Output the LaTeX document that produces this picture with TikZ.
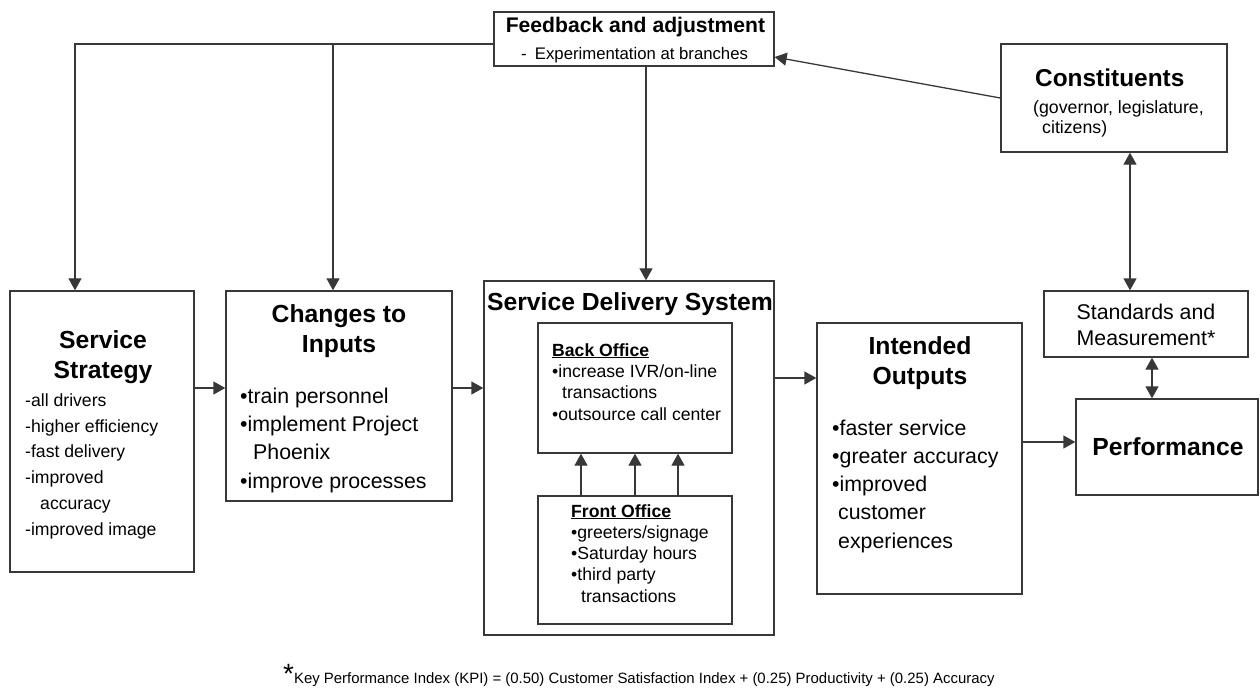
\documentclass[tikz,border=0pt]{standalone}
\usepackage{fontspec}
\setmainfont{Liberation Sans}
\usetikzlibrary{arrows.meta}
\begin{document}
\begin{tikzpicture}[x=1bp,y=-1bp,
  box/.style={draw=black!78,line width=1.3bp,inner sep=0pt,rectangle},
  arr/.style={draw=black!78,line width=1.3bp,-{Triangle[length=12bp,width=13bp]}},
  arrs/.style={draw=black!78,line width=1.3bp,{Triangle[length=12bp,width=13bp]}-{Triangle[length=12bp,width=13bp]}},
  head/.style={inner sep=0pt,align=center,font=\fontsize{24.8}{30}\selectfont\bfseries},
  txt/.style={inner sep=0pt,align=left,anchor=base west},
  small/.style={txt,font=\fontsize{17.7}{21.4}\selectfont},
  big/.style={txt,font=\fontsize{21.4}{28.3}\selectfont}]
\useasboundingbox (0,0) rectangle (1260,689);
\node[box,minimum width=280bp,minimum height=54bp] (fb) at (634,39) {};
\node[box,minimum width=226bp,minimum height=108bp] (con) at (1114,98) {};
\node[box,minimum width=184bp,minimum height=281bp] (ss) at (102,431.5) {};
\node[box,minimum width=226bp,minimum height=210bp] (ci) at (339,396) {};
\node[box,minimum width=290bp,minimum height=354bp] (sds) at (629,458) {};
\node[box,minimum width=194bp,minimum height=130bp] (bo) at (635,388) {};
\node[box,minimum width=194bp,minimum height=128bp] (fo) at (635,560) {};
\node[box,minimum width=205bp,minimum height=271bp] (io) at (919.5,458.5) {};
\node[box,minimum width=204bp,minimum height=66bp] (std) at (1146,324) {};
\node[box,minimum width=182bp,minimum height=96bp] (perf) at (1167,447) {};
% multi-line texts sit on the baseline of their last line
\node[inner sep=0pt,anchor=base,font=\fontsize{21.2}{24}\selectfont\bfseries] (fbt) at (635.5,33) {Feedback and adjustment};
\node[inner sep=0pt,anchor=base,font=\fontsize{16.8}{20}\selectfont] (fbs) at (634.5,60) {-\enspace Experimentation at branches};
\node[inner sep=0pt,anchor=base west,font=\fontsize{24.5}{30}\selectfont\bfseries] (cont) at (1035,87) {Constituents};
\node[txt,font=\fontsize{17.8}{21}\selectfont] (conb) at (1033,134) {(governor, legislature,\\\hspace*{9bp}citizens)};
\node[head,anchor=base] (sst) at (103,378) {Service\\Strategy};
\node[txt,font=\fontsize{17.7}{25.8}\selectfont] (ssb) at (25,535) {-all drivers\\-higher efficiency\\-fast delivery\\-improved\\\hspace*{15bp}accuracy\\-improved image};
\node[head,anchor=base] (cit) at (339,352) {Changes to\\Inputs};
\node[big] (cib) at (240,488) {•train personnel\\•implement Project\\\hspace*{13bp}Phoenix\\•improve processes};
\node[head,anchor=base] (sdst) at (630,310) {Service Delivery System};
\node[small,font=\fontsize{17.7}{21.4}\selectfont\bfseries] (bot) at (552,356) {\underline{Back Office}};
\node[small] (bob) at (552,420) {•increase IVR/on-line\\\hspace*{10bp}transactions\\•outsource call center};
\node[small,font=\fontsize{17.7}{21.4}\selectfont\bfseries] (fot) at (571,517) {\underline{Front Office}};
\node[small] (fob) at (571,602) {•greeters/signage\\•Saturday hours\\•third party\\\hspace*{10bp}transactions};
\node[head,anchor=base] (iot) at (920,384) {Intended\\Outputs};
\node[big] (iob) at (832,548) {•faster service\\•greater accuracy\\•improved\\\hspace*{6bp}customer\\\hspace*{6bp}experiences};
\node[inner sep=0pt,align=center,anchor=base,font=\fontsize{21.4}{26}\selectfont] (stdt) at (1146,345) {Standards and\\Measurement*};
\node[head,anchor=base] (perft) at (1168,455) {Performance};
\node[inner sep=0pt,anchor=base west,font=\fontsize{15}{18}\selectfont] (kpi) at (283,683) {{\fontsize{28}{28}\selectfont*}Key Performance Index (KPI) = (0.50) Customer Satisfaction Index + (0.25) Productivity + (0.25) Accuracy};
\coordinate (fbl) at ([yshift=-5bp]fb.west);
\coordinate (ssin) at ([xshift=-27bp]ss.north);
\coordinate (ciin) at ([xshift=-6bp]ci.north);
\draw[arr] (fbl) -| (ssin);
\draw[arr] (ciin |- fbl) -- (ciin);
\coordinate (fbd) at ([xshift=12bp]fb.south);
\draw[arr] (fbd) -- (fbd |- sds.north);
\draw[arr] (con.west) -- ([yshift=-18bp]fb.east);
\coordinate (cond) at ([xshift=16bp]con.south);
\draw[arrs] (cond) -- (cond |- std.north);
\coordinate (stdd) at ([xshift=6bp]std.south);
\draw[arrs] (stdd) -- (stdd |- perf.north);
\coordinate (ssr) at ([yshift=43.5bp]ss.east);
\draw[arr] (ssr) -- (ssr -| ci.west);
\coordinate (cir) at ([yshift=8bp]ci.east);
\draw[arr] (cir) -- (cir -| sds.west);
\coordinate (sdsr) at ([yshift=80bp]sds.east);
\draw[arr] (sdsr) -- (sdsr -| io.west);
\coordinate (ior) at ([yshift=16.5bp]io.east);
\draw[arr] (ior) -- (ior -| perf.west);
\foreach \d in {-54,0,43}
  \draw[arr] ([xshift=\d bp]fo.north) -- ([xshift=\d bp]bo.south);
\end{tikzpicture}
\end{document}
